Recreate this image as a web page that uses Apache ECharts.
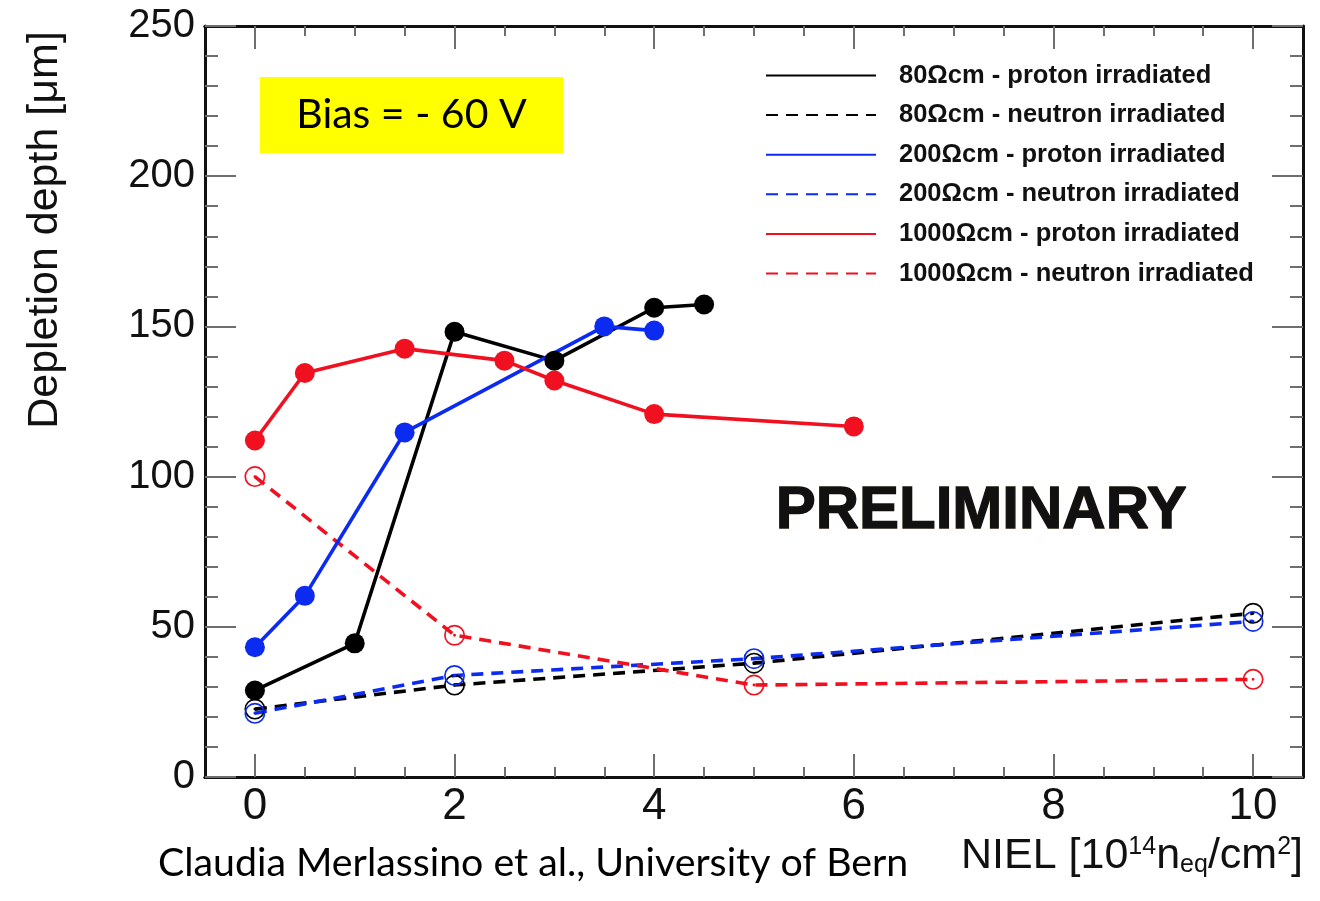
<!DOCTYPE html>
<html>
<head>
<meta charset="utf-8">
<title>Depletion depth vs NIEL</title>
<script src="https://cdn.jsdelivr.net/npm/echarts@6/dist/echarts.min.js"></script>
<style>
  html, body { margin: 0; padding: 0; background: #fff; }
  #chart { width: 1320px; height: 901px; }
</style>
</head>
<body>
<div id="chart"></div>
<script>
// Fluence points, 10^14 n_eq/cm^2
const xP80 = [0, 1, 2, 3, 4, 4.5];
const yP80 = [28.8, 44.5, 148.2, 138.6, 156.2, 157.3];
const xP200 = [0, 0.5, 1.5, 3.5, 4];
const yP200 = [43.2, 60.3, 114.7, 150.0, 148.6];
const xP1000 = [0, 0.5, 1.5, 2.5, 3, 4, 6];
const yP1000 = [112.0, 134.5, 142.6, 138.6, 132.0, 120.8, 116.7];
const xN = [0, 2, 5, 10];
const yN80 = [22.6, 30.6, 37.9, 54.5];
const yN200 = [21.2, 33.8, 39.4, 51.8];
const yN1000 = [100.0, 47.2, 30.6, 32.5];

const seriesNames = [
  '80\u03A9cm - proton irradiated',
  '80\u03A9cm - neutron irradiated',
  '200\u03A9cm - proton irradiated',
  '200\u03A9cm - neutron irradiated',
  '1000\u03A9cm - proton irradiated',
  '1000\u03A9cm - neutron irradiated'
];

// Axis tick positions
const xMajorTicks = [0, 2, 4, 6, 8, 10];
const xMinorTicks = [0, 0.5, 1, 1.5, 2, 2.5, 3, 3.5, 4, 4.5, 5, 5.5, 6, 6.5, 7, 7.5, 8, 8.5, 9, 9.5, 10];

const BLACK = '#000000';
const BLUE = '#0b2bf0';
const RED = '#f01020';

// open ring with a small centre dot
const ringSymbol = 'path://M0,-10A10,10,0,1,1,0,10A10,10,0,1,1,0,-10ZM0,-8.4A8.4,8.4,0,1,0,0,8.4A8.4,8.4,0,1,0,0,-8.4ZM0,-1.4A1.4,1.4,0,1,1,0,1.4A1.4,1.4,0,1,1,0,-1.4Z';

function pairs(xs, ys) { return xs.map((x, i) => [x, ys[i]]); }

function proton(name, xs, ys, color, z) {
  return {
    name, type: 'line', data: pairs(xs, ys),
    symbol: 'circle', symbolSize: 20,
    lineStyle: { color, width: 3.6, type: 'solid' },
    itemStyle: { color },
    emphasis: { disabled: true }, z
  };
}
function neutron(name, xs, ys, color) {
  return {
    name, type: 'line', data: pairs(xs, ys),
    symbol: ringSymbol, symbolSize: 21,
    lineStyle: { color, width: 3.6, type: [12, 8] },
    itemStyle: { color },
    emphasis: { disabled: true }, z: 2
  };
}

const tickGray = '#6e6e6e';
const axisLine = { show: true, onZero: false, lineStyle: { color: '#111', width: 3 } };

function xAxisDef(pos, ticks, len, withLabels) {
  return {
    type: 'value', position: pos, min: -0.5, max: 10.5,
    axisLine: axisLine,
    splitLine: { show: false },
    axisTick: { show: true, inside: true, length: len, customValues: ticks,
                lineStyle: { color: tickGray, width: 2 } },
    axisLabel: withLabels ? {
      show: true, customValues: xMajorTicks, margin: 8,
      fontFamily: 'Liberation Sans', fontSize: 44, color: '#111'
    } : { show: false }
  };
}
function yAxisDef(pos, withLabels) {
  return {
    type: 'value', position: pos, min: 0, max: 250, interval: 50,
    axisLine: axisLine,
    splitLine: { show: false },
    axisTick: { show: true, inside: true, length: 31, lineStyle: { color: tickGray, width: 2 } },
    minorTick: { show: true, splitNumber: 5, length: 13, lineStyle: { color: tickGray, width: 2 } },
    axisLabel: withLabels ? {
      show: true, margin: 10, fontFamily: 'Liberation Sans', fontSize: 40, color: '#111'
    } : { show: false }
  };
}

const chart = echarts.init(document.getElementById('chart'), null, { renderer: 'canvas' });
chart.setOption({
  animation: false,
  backgroundColor: '#ffffff',
  grid: { left: 205, right: 17, top: 26, bottom: 124, containLabel: false },
  xAxis: [
    xAxisDef('bottom', xMajorTicks, 23, true),
    xAxisDef('bottom', xMinorTicks, 10, false),
    xAxisDef('top', xMajorTicks, 23, false),
    xAxisDef('top', xMinorTicks, 10, false)
  ],
  yAxis: [yAxisDef('left', true), yAxisDef('right', false)],
  legend: {
    orient: 'vertical', left: 760, top: 56,
    itemWidth: 110, itemHeight: 14, itemGap: 10.6,
    textStyle: { fontFamily: 'Liberation Sans', fontWeight: 'bold', fontSize: 25.5,
                 color: '#111', lineHeight: 29, padding: [0, 0, 0, 18] },
    itemStyle: { opacity: 0 },
    selectedMode: false,
    data: seriesNames
  },
  series: [
    neutron(seriesNames[1], xN, yN80, BLACK),
    neutron(seriesNames[3], xN, yN200, BLUE),
    neutron(seriesNames[5], xN, yN1000, RED),
    proton(seriesNames[0], xP80, yP80, BLACK, 3),
    proton(seriesNames[2], xP200, yP200, BLUE, 3),
    proton(seriesNames[4], xP1000, yP1000, RED, 3)
  ],
  graphic: [
    {
      type: 'rect', left: 260, top: 77, silent: true,
      shape: { width: 303, height: 76 }, style: { fill: '#ffff00' },
      textContent: {
        style: { text: 'Bias = - 60 V', fontFamily: 'Lato', fontSize: 41, fill: '#000' }
      },
      textConfig: { position: 'inside' }
    },
    {
      type: 'text', left: 775, top: 481, silent: true,
      style: { text: 'PRELIMINARY', fontFamily: 'Liberation Sans', fontWeight: 'bold',
               fontSize: 60, fill: '#111', stroke: '#1a1208', lineWidth: 1.3 }
    },
    {
      type: 'text', x: 45, y: 230, rotation: Math.PI / 2, silent: true,
      style: { text: 'Depletion depth [\u03BCm]', align: 'center', verticalAlign: 'middle',
               fontFamily: 'Liberation Sans', fontSize: 43, fill: '#111' }
    },
    {
      type: 'text', right: 17, top: 835, silent: true,
      style: {
        text: 'NIEL [10{sup|14}n{sub|eq}/cm{sup|2}]',
        fontFamily: 'Liberation Sans', fontSize: 43, fill: '#111',
        rich: {
          sup: { fontSize: 25, verticalAlign: 'top', padding: [0, 0, 18, 0],
                 fontFamily: 'Liberation Sans', fill: '#111' },
          sub: { fontSize: 25, verticalAlign: 'bottom', padding: [16, 0, 0, 0],
                 fontFamily: 'Liberation Sans', fill: '#111' }
        }
      }
    },
    {
      type: 'text', left: 158, top: 844, silent: true,
      style: { text: 'Claudia Merlassino et al., University of Bern',
               fontFamily: 'Lato', fontSize: 39.3, fill: '#000' }
    }
  ]
});
</script>
</body>
</html>
